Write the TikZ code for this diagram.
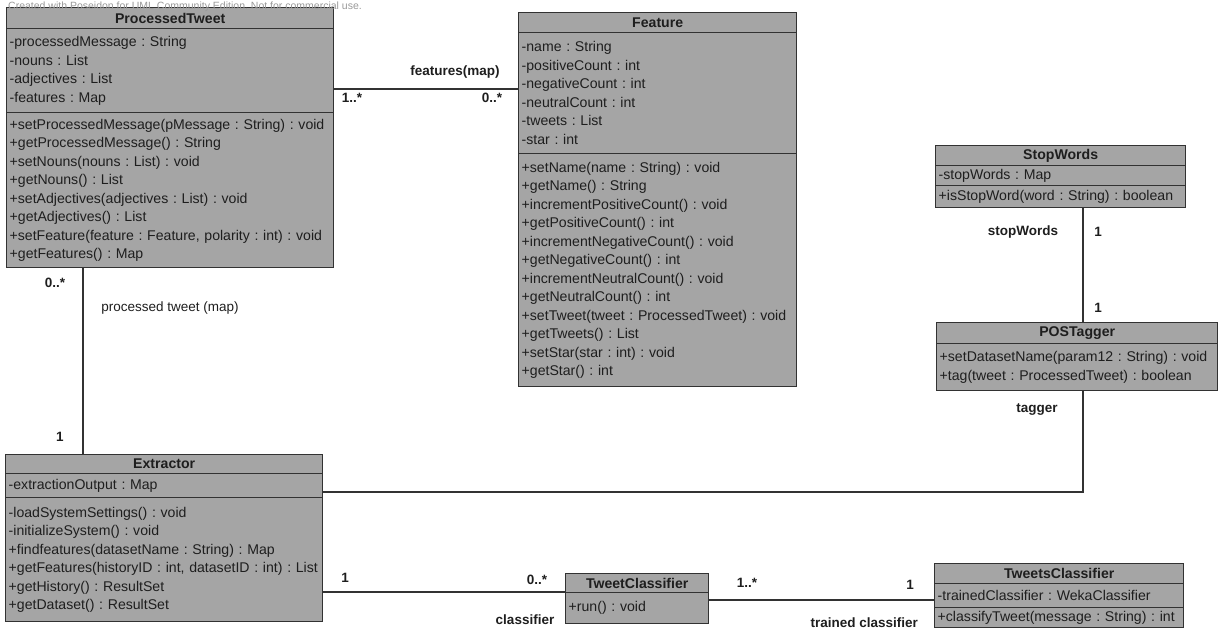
\documentclass[tikz,border=0pt]{standalone}
\usepackage{fontspec}
\setmainfont{Liberation Sans}
\frenchspacing
\definecolor{boxfill}{RGB}{165,165,165}
\definecolor{linec}{RGB}{50,50,50}
\definecolor{txt}{RGB}{30,30,30}
\begin{document}
\begin{tikzpicture}[x=1pt,y=-1pt,
  box/.style={draw=linec, line width=1.4pt, fill=boxfill, anchor=north west,
    inner xsep=3pt, inner ysep=0pt, text=txt, font=\fontsize{14.1}{18.5}\selectfont},
  hdr/.style 2 args={box, minimum width=#1, minimum height=#2, align=center,
    font=\fontsize{14.1}{18.5}\selectfont\bfseries},
  comp/.style 2 args={box, text width=#1, minimum height=#2, align=left},
  conn/.style={draw=linec, line width=1.4pt},
  lbl/.style={text=txt, inner sep=0pt, font=\fontsize{13.5}{16}\selectfont\bfseries},
  lblr/.style={text=txt, inner sep=0pt, font=\fontsize{13.5}{16}\selectfont},
  wm/.style={text=black!40, inner sep=0pt, anchor=west, font=\fontsize{10.5}{12}\selectfont}
]
\useasboundingbox (0,0) rectangle (1223,637);

% ProcessedTweet
\node[hdr={327pt}{21pt}] (ptH) at (6,7) {ProcessedTweet};
\node[comp={321pt}{84pt}] (ptA) at (6,28) {-processedMessage : String\\-nouns : List\\-adjectives : List\\-features : Map};
\node[comp={321pt}{155pt}] (ptM) at (6,112) {+setProcessedMessage(pMessage : String) : void\\+getProcessedMessage() : String\\+setNouns(nouns : List) : void\\+getNouns() : List\\+setAdjectives(adjectives : List) : void\\+getAdjectives() : List\\+setFeature(feature : Feature, polarity : int) : void\\+getFeatures() : Map};

% Feature
\node[hdr={278pt}{20pt}] (ftH) at (518,12) {Feature};
\node[comp={272pt}{121pt}] (ftA) at (518,32) {-name : String\\-positiveCount : int\\-negativeCount : int\\-neutralCount : int\\-tweets : List\\-star : int};
\node[comp={272pt}{233pt}] (ftM) at (518,153) {+setName(name : String) : void\\+getName() : String\\+incrementPositiveCount() : void\\+getPositiveCount() : int\\+incrementNegativeCount() : void\\+getNegativeCount() : int\\+incrementNeutralCount() : void\\+getNeutralCount() : int\\+setTweet(tweet : ProcessedTweet) : void\\+getTweets() : List\\+setStar(star : int) : void\\+getStar() : int};

% StopWords
\node[hdr={250pt}{20pt}] (stH) at (935,145) {StopWords};
\node[comp={244pt}{20pt}] (stA) at (935,165) {-stopWords : Map};
\node[comp={244pt}{22pt}] (stM) at (935,185) {+isStopWord(word : String) : boolean};

% POSTagger
\node[hdr={281pt}{21pt}] (posH) at (936,322) {POSTagger};
\node[comp={275pt}{47pt}] (posM) at (936,343) {+setDatasetName(param12 : String) : void\\+tag(tweet : ProcessedTweet) : boolean};

% Extractor
\node[hdr={317pt}{19pt}] (exH) at (5,454) {Extractor};
\node[comp={311pt}{24pt}] (exA) at (5,473) {-extractionOutput : Map};
\node[comp={311pt}{124pt}] (exM) at (5,497) {-loadSystemSettings() : void\\-initializeSystem() : void\\+findfeatures(datasetName : String) : Map\\+getFeatures(historyID : int, datasetID : int) : List\\+getHistory() : ResultSet\\+getDataset() : ResultSet};

% TweetClassifier
\node[hdr={143pt}{19pt}] (tcH) at (565,573) {TweetClassifier};
\node[comp={137pt}{31pt}] (tcM) at (565,592) {+run() : void};

% TweetsClassifier
\node[hdr={249pt}{20pt}] (tscH) at (934,563) {TweetsClassifier};
\node[comp={243pt}{24pt}] (tscA) at (934,583) {-trainedClassifier : WekaClassifier};
\node[comp={243pt}{20pt}] (tscM) at (934,607) {+classifyTweet(message : String) : int};

% watermark
\node[wm] (wmk) at (8,7) {Created with Poseidon for UML Community Edition. Not for commercial use.};

% connectors
\draw[conn] (ptA.east |- 0,89) -- (ftA.west |- 0,89);
\draw[conn] (ptM.south -| 83,0) -- (exH.north -| 83,0);
\draw[conn] (stM.south -| 1083,0) -- (posH.north -| 1083,0);
\draw[conn] (posM.south -| 1083,0) |- (exA.east |- 0,492);
\draw[conn] (exM.east |- tcM.north west) -- (tcM.north west);
\draw[conn] (tcM.east |- 0,600) -- (tscA.west |- 0,600);

% labels
\node[lbl] (l1) at (455,72) {features(map)};
\node[lbl] (l2) at (352,98) {1..*};
\node[lbl] (l3) at (492,98) {0..*};
\node[lbl] (l4) at (55,283) {0..*};
\node[lblr] (l5) at (170,308) {processed tweet (map)};
\node[lbl] (l6) at (60,437) {1};
\node[lbl] (l7) at (1023,232) {stopWords};
\node[lbl] (l8) at (1098,232) {1};
\node[lbl] (l9) at (1098,308) {1};
\node[lbl] (l10) at (1037,410) {tagger};
\node[lbl] (l11) at (345,578) {1};
\node[lbl] (l12) at (537,580) {0..*};
\node[lbl] (l13) at (525,620) {classifier};
\node[lbl] (l14) at (747,583) {1..*};
\node[lbl] (l15) at (910,585) {1};
\node[lbl, anchor=east] (l16) at (918,623) {trained classifier};
\end{tikzpicture}
\end{document}
